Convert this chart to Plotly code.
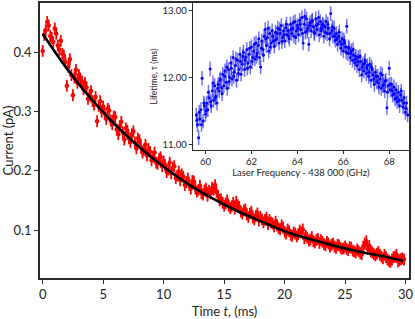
import plotly.graph_objects as go

# ---------------- main panel data (current decay) ----------------
time_a_ms = [
    0.00, 0.25, 0.50, 0.75, 1.00, 1.25, 1.50, 1.75, 2.00, 2.25,
    2.50, 2.75, 3.00, 3.25, 3.50, 3.75, 4.00, 4.25, 4.50, 4.75,
    5.00, 5.25, 5.50, 5.75, 6.00, 6.25, 6.50, 6.75, 7.00, 7.25,
    7.50, 7.75, 8.00, 8.25, 8.50, 8.75, 9.00, 9.25, 9.50, 9.75,
    10.00, 10.25, 10.50, 10.75, 11.00, 11.25, 11.50, 11.75, 12.00, 12.25,
    12.50, 12.75, 13.00, 13.25, 13.50, 13.75, 14.00, 14.25, 14.50, 14.75,
    15.00, 15.25, 15.50, 15.75, 16.00, 16.25, 16.50, 16.75, 17.00, 17.25,
    17.50, 17.75, 18.00, 18.25, 18.50, 18.75, 19.00, 19.25, 19.50, 19.75,
    20.00, 20.25, 20.50, 20.75, 21.00, 21.25, 21.50, 21.75, 22.00, 22.25,
    22.50, 22.75, 23.00, 23.25, 23.50, 23.75, 24.00, 24.25, 24.50, 24.75,
    25.00, 25.25, 25.50, 25.75, 26.00, 26.25, 26.50, 26.75, 27.00, 27.25,
    27.50, 27.75, 28.00, 28.25, 28.50, 28.75, 29.00, 29.25, 29.50, 29.75,
]
current_a_pA = [
    0.403, 0.438, 0.446, 0.425, 0.441, 0.412, 0.420, 0.395, 0.344, 0.389,
    0.328, 0.371, 0.362, 0.351, 0.349, 0.322, 0.335, 0.312, 0.284, 0.318,
    0.309, 0.288, 0.302, 0.279, 0.291, 0.262, 0.283, 0.253, 0.268, 0.249,
    0.267, 0.238, 0.252, 0.231, 0.244, 0.237, 0.218, 0.231, 0.212, 0.223,
    0.216, 0.198, 0.214, 0.205, 0.188, 0.199, 0.194, 0.176, 0.187, 0.170,
    0.182, 0.165, 0.175, 0.160, 0.170, 0.166, 0.171, 0.176, 0.158, 0.152,
    0.141, 0.150, 0.137, 0.146, 0.148, 0.139, 0.128, 0.135, 0.122, 0.131,
    0.118, 0.128, 0.122, 0.113, 0.121, 0.117, 0.111, 0.114, 0.103, 0.108,
    0.097, 0.101, 0.092, 0.096, 0.089, 0.099, 0.101, 0.090, 0.082, 0.088,
    0.079, 0.085, 0.083, 0.076, 0.080, 0.072, 0.077, 0.070, 0.074, 0.068,
    0.072, 0.066, 0.070, 0.064, 0.067, 0.061, 0.072, 0.081, 0.073, 0.062,
    0.057, 0.063, 0.055, 0.058, 0.050, 0.046, 0.054, 0.058, 0.049, 0.052,
]
time_b_ms = [
    0.125, 0.375, 0.625, 0.875, 1.125, 1.375, 1.625, 1.875, 2.125, 2.375,
    2.625, 2.875, 3.125, 3.375, 3.625, 3.875, 4.125, 4.375, 4.625, 4.875,
    5.125, 5.375, 5.625, 5.875, 6.125, 6.375, 6.625, 6.875, 7.125, 7.375,
    7.625, 7.875, 8.125, 8.375, 8.625, 8.875, 9.125, 9.375, 9.625, 9.875,
    10.125, 10.375, 10.625, 10.875, 11.125, 11.375, 11.625, 11.875, 12.125, 12.375,
    12.625, 12.875, 13.125, 13.375, 13.625, 13.875, 14.125, 14.375, 14.625, 14.875,
    15.125, 15.375, 15.625, 15.875, 16.125, 16.375, 16.625, 16.875, 17.125, 17.375,
    17.625, 17.875, 18.125, 18.375, 18.625, 18.875, 19.125, 19.375, 19.625, 19.875,
    20.125, 20.375, 20.625, 20.875, 21.125, 21.375, 21.625, 21.875, 22.125, 22.375,
    22.625, 22.875, 23.125, 23.375, 23.625, 23.875, 24.125, 24.375, 24.625, 24.875,
    25.125, 25.375, 25.625, 25.875, 26.125, 26.375, 26.625, 26.875, 27.125, 27.375,
    27.625, 27.875, 28.125, 28.375, 28.625, 28.875, 29.125, 29.375, 29.625, 29.875,
]
current_b_pA = [
    0.430, 0.452, 0.428, 0.418, 0.432, 0.405, 0.398, 0.384, 0.376, 0.362,
    0.358, 0.349, 0.356, 0.338, 0.341, 0.328, 0.318, 0.325, 0.310, 0.300,
    0.297, 0.305, 0.285, 0.292, 0.270, 0.276, 0.265, 0.272, 0.255, 0.262,
    0.248, 0.255, 0.240, 0.236, 0.226, 0.232, 0.224, 0.214, 0.220, 0.208,
    0.210, 0.202, 0.196, 0.208, 0.192, 0.184, 0.190, 0.181, 0.176, 0.183,
    0.170, 0.168, 0.162, 0.167, 0.158, 0.162, 0.168, 0.164, 0.150, 0.146,
    0.145, 0.141, 0.140, 0.136, 0.142, 0.131, 0.133, 0.126, 0.128, 0.121,
    0.124, 0.116, 0.118, 0.117, 0.110, 0.113, 0.106, 0.108, 0.101, 0.104,
    0.094, 0.098, 0.090, 0.094, 0.093, 0.096, 0.086, 0.087, 0.084, 0.081,
    0.083, 0.078, 0.080, 0.074, 0.077, 0.075, 0.072, 0.075, 0.070, 0.069,
    0.068, 0.071, 0.065, 0.062, 0.064, 0.059, 0.077, 0.068, 0.064, 0.059,
    0.060, 0.058, 0.052, 0.054, 0.048, 0.050, 0.055, 0.047, 0.051, 0.050,
]
current_err = 0.010
time_err = 0.13

fit_time_ms = [0.0, 2.0, 4.0, 6.0, 8.0, 10.0, 12.0, 14.0, 16.0, 18.0,
               20.0, 22.0, 24.0, 26.0, 28.0, 29.8]
fit_current_pA = [0.432, 0.373, 0.322, 0.278, 0.240, 0.207, 0.178, 0.154,
                  0.133, 0.115, 0.098, 0.085, 0.074, 0.064, 0.056, 0.048]

# ---------------- inset data (lifetime vs laser frequency) ----------------
freq_a_ghz = [
    59.60, 59.65, 59.70, 59.75, 59.80, 59.85, 59.90, 59.95, 60.00, 60.05,
    60.10, 60.15, 60.20, 60.25, 60.30, 60.35, 60.40, 60.45, 60.50, 60.55,
    60.60, 60.65, 60.70, 60.75, 60.80, 60.85, 60.90, 60.95, 61.00, 61.05,
    61.10, 61.15, 61.20, 61.25, 61.30, 61.35, 61.40, 61.45, 61.50, 61.55,
    61.60, 61.65, 61.70, 61.75, 61.80, 61.85, 61.90, 61.95, 62.00, 62.05,
    62.10, 62.15, 62.20, 62.25, 62.30, 62.35, 62.40, 62.45, 62.50, 62.55,
    62.60, 62.65, 62.70, 62.75, 62.80, 62.85, 62.90, 62.95, 63.00, 63.05,
    63.10, 63.15, 63.20, 63.25, 63.30, 63.35, 63.40, 63.45, 63.50, 63.55,
    63.60, 63.65, 63.70, 63.75, 63.80, 63.85, 63.90, 63.95, 64.00, 64.05,
    64.10, 64.15, 64.20, 64.25, 64.30, 64.35, 64.40, 64.45, 64.50, 64.55,
    64.60, 64.65, 64.70, 64.75, 64.80, 64.85, 64.90, 64.95, 65.00, 65.05,
    65.10, 65.15, 65.20, 65.25, 65.30, 65.35, 65.40, 65.45, 65.50, 65.55,
    65.60, 65.65, 65.70, 65.75, 65.80, 65.85, 65.90, 65.95, 66.00, 66.05,
    66.10, 66.15, 66.20, 66.25, 66.30, 66.35, 66.40, 66.45, 66.50, 66.55,
    66.60, 66.65, 66.70, 66.75, 66.80, 66.85, 66.90, 66.95, 67.00, 67.05,
    67.10, 67.15, 67.20, 67.25, 67.30, 67.35, 67.40, 67.45, 67.50, 67.55,
    67.60, 67.65, 67.70, 67.75, 67.80, 67.85, 67.90, 67.95, 68.00, 68.05,
    68.10, 68.15, 68.20, 68.25, 68.30, 68.35, 68.40, 68.45, 68.50, 68.55,
    68.60, 68.65, 68.70, 68.75, 68.80,
]
lifetime_a_ms = [
    11.44, 11.30, 11.10, 11.38, 11.52, 11.99, 11.35, 11.58, 11.45, 11.62,
    11.52, 11.70, 12.13, 11.58, 11.80, 11.66, 11.88, 11.72, 11.62, 11.90,
    11.80, 11.98, 11.85, 12.05, 11.88, 12.10, 11.93, 11.84, 12.12, 12.00,
    12.22, 11.98, 12.30, 12.08, 12.18, 11.96, 12.26, 12.12, 12.35, 12.05,
    12.20, 12.38, 12.12, 12.30, 12.42, 12.22, 12.35, 12.16, 12.46, 12.30,
    12.40, 12.28, 12.52, 12.36, 12.48, 12.30, 12.16, 12.55, 12.42, 12.62,
    12.72, 12.48, 12.60, 12.40, 12.66, 12.52, 12.70, 12.55, 12.47, 12.68,
    12.58, 12.74, 12.52, 12.66, 12.78, 12.60, 12.70, 12.55, 12.75, 12.64,
    12.70, 12.58, 12.80, 12.66, 12.74, 12.62, 12.84, 12.70, 12.78, 12.64,
    12.86, 12.72, 12.90, 12.52, 12.80, 12.68, 12.88, 12.74, 12.50, 12.82,
    12.70, 12.86, 12.76, 12.66, 12.88, 12.72, 12.80, 12.64, 12.84, 12.74,
    12.80, 12.62, 12.76, 12.84, 12.66, 12.74, 12.58, 12.96, 12.70, 12.62,
    12.74, 12.56, 12.66, 12.50, 12.62, 12.54, 12.44, 12.58, 12.40, 12.52,
    12.46, 12.77, 12.36, 12.44, 12.30, 12.40, 12.26, 12.34, 12.22, 12.32,
    12.18, 12.30, 12.12, 12.24, 12.04, 12.20, 12.10, 12.26, 12.06, 12.18,
    12.02, 12.20, 11.96, 12.12, 12.04, 11.90, 12.08, 11.94, 12.02, 11.86,
    11.98, 11.84, 12.04, 11.90, 11.80, 11.96, 11.55, 11.88, 12.14, 11.82,
    11.90, 11.74, 11.86, 11.68, 11.82, 11.64, 11.78, 11.58, 11.74, 11.66,
    11.56, 11.70, 11.48, 11.62, 11.44,
]
freq_b_ghz = [
    59.625, 59.725, 59.825, 59.925, 60.025, 60.125, 60.225, 60.325, 60.425, 60.525,
    60.625, 60.725, 60.825, 60.925, 61.025, 61.125, 61.225, 61.325, 61.425, 61.525,
    61.625, 61.725, 61.825, 61.925, 62.025, 62.125, 62.225, 62.325, 62.425, 62.525,
    62.625, 62.725, 62.825, 62.925, 63.025, 63.125, 63.225, 63.325, 63.425, 63.525,
    63.625, 63.725, 63.825, 63.925, 64.025, 64.125, 64.225, 64.325, 64.425, 64.525,
    64.625, 64.725, 64.825, 64.925, 65.025, 65.125, 65.225, 65.325, 65.425, 65.525,
    65.625, 65.725, 65.825, 65.925, 66.025, 66.125, 66.225, 66.325, 66.425, 66.525,
    66.625, 66.725, 66.825, 66.925, 67.025, 67.125, 67.225, 67.325, 67.425, 67.525,
    67.625, 67.725, 67.825, 67.925, 68.025, 68.125, 68.225, 68.325, 68.425, 68.525,
    68.625, 68.725,
]
lifetime_b_ms = [
    11.36, 11.48, 11.30, 11.62, 11.50, 11.78, 11.64, 11.92, 11.70, 11.84,
    11.96, 11.76, 12.02, 12.16, 11.94, 12.14, 12.02, 12.28, 12.06, 12.24,
    12.32, 12.26, 12.14, 12.44, 12.24, 12.50, 12.32, 12.58, 12.44, 12.34,
    12.58, 12.74, 12.46, 12.62, 12.56, 12.66, 12.72, 12.54, 12.64, 12.80,
    12.62, 12.72, 12.82, 12.60, 12.74, 12.80, 12.66, 12.92, 12.70, 12.78,
    12.84, 12.68, 12.78, 12.90, 12.70, 12.78, 12.68, 12.80, 12.66, 12.76,
    12.62, 12.58, 12.68, 12.50, 12.56, 12.38, 12.46, 12.36, 12.42, 12.28,
    12.24, 12.32, 12.16, 12.22, 12.14, 12.08, 12.16, 11.98, 12.02, 11.92,
    12.06, 11.88, 11.94, 11.78, 11.90, 11.80, 11.76, 11.70, 11.66, 11.80,
    11.62, 11.54,
]
lifetime_err = 0.11

FONT = "Lato"
AXIS_COLOR = "#2b2b2b"

fig = go.Figure()

fig.add_trace(go.Scatter(
    x=time_a_ms + time_b_ms, y=current_a_pA + current_b_pA, mode="markers",
    marker=dict(color="red", size=4.5),
    error_y=dict(type="constant", value=current_err, color="red", thickness=1.8, width=0),
    error_x=dict(type="constant", value=time_err, color="red", thickness=1.5, width=0),
    xaxis="x", yaxis="y", showlegend=False,
))
fig.add_trace(go.Scatter(
    x=fit_time_ms, y=fit_current_pA, mode="lines",
    line=dict(color="black", width=2.6, shape="spline"),
    xaxis="x", yaxis="y", showlegend=False,
))
fig.add_trace(go.Scatter(
    x=freq_a_ghz + freq_b_ghz, y=lifetime_a_ms + lifetime_b_ms, mode="markers",
    marker=dict(color="blue", size=3),
    error_y=dict(type="constant", value=lifetime_err, color="rgba(20,20,255,0.6)", thickness=1.5, width=0),
    xaxis="x2", yaxis="y2", showlegend=False,
))

fig.update_layout(
    width=415, height=319,
    margin=dict(l=40, r=2, t=1, b=36),
    paper_bgcolor="white", plot_bgcolor="white",
    font=dict(family=FONT, color="#222"),
    showlegend=False,
    xaxis=dict(
        range=[-0.22, 30.28], tickvals=[0, 5, 10, 15, 20, 25, 30],
        ticks="outside", ticklen=4, tickcolor=AXIS_COLOR, tickwidth=1,
        showline=True, linecolor=AXIS_COLOR, linewidth=1.5, mirror=True,
        showgrid=False, zeroline=False, ticklabeloverflow="allow",
        tickfont=dict(size=13, family=FONT),
        title=dict(text="Time <i>t</i>, (ms)", font=dict(size=13, family=FONT), standoff=7),
    ),
    yaxis=dict(
        range=[0.0188, 0.484], tickvals=[0.1, 0.2, 0.3, 0.4],
        ticktext=["0.1", "0.2", "0.3", "0.4"],
        ticks="outside", ticklen=4, tickcolor=AXIS_COLOR, tickwidth=1,
        showline=True, linecolor=AXIS_COLOR, linewidth=1.5, mirror=True,
        showgrid=False, zeroline=False,
        tickfont=dict(size=13, family=FONT),
        title=dict(text="Current (pA)", font=dict(size=13, family=FONT), standoff=3),
    ),
    xaxis2=dict(
        domain=[0.4137, 1.0], anchor="y2",
        range=[59.44, 68.86], tickvals=[60, 62, 64, 66, 68],
        ticks="outside", ticklen=3, tickcolor=AXIS_COLOR, tickwidth=1,
        showline=True, linecolor=AXIS_COLOR, linewidth=1, mirror=True,
        showgrid=False, zeroline=False,
        tickfont=dict(size=9.5, family=FONT),
        title=dict(text="Laser Frequency - 438 000 (GHz)", font=dict(size=9.5, family=FONT), standoff=1),
    ),
    yaxis2=dict(
        domain=[0.4656, 1.0], anchor="x2",
        range=[10.917, 13.117], tickvals=[11, 12, 13],
        ticktext=["11.00", "12.00", "13.00"],
        ticks="outside", ticklen=3, tickcolor=AXIS_COLOR, tickwidth=1,
        showline=True, linecolor=AXIS_COLOR, linewidth=1, mirror=True,
        showgrid=False, zeroline=False,
        tickfont=dict(size=9.5, family=FONT),
        title=dict(text="Lifetime, τ (ms)", font=dict(size=8.5, family=FONT), standoff=3),
    ),
)

fig.write_html("out.html", config={"displayModeBar": False},
               post_script="document.body.style.margin='0';")
